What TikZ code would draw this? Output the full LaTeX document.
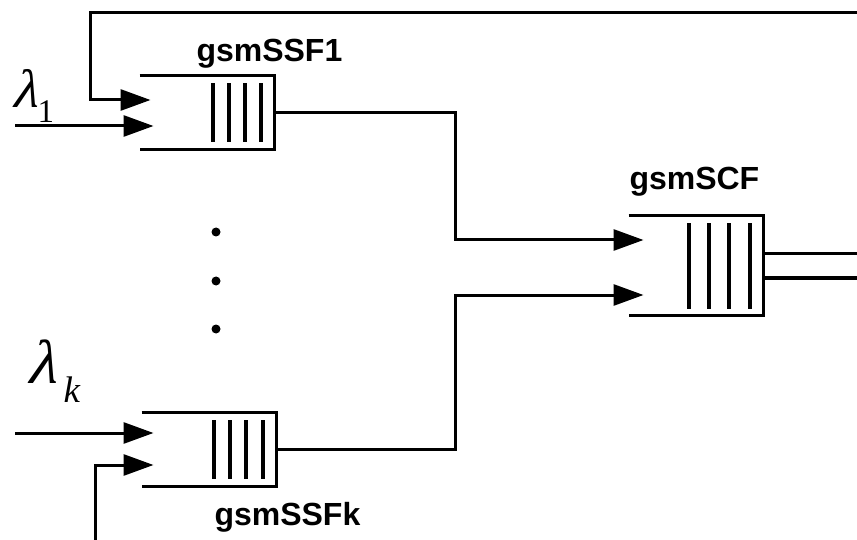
\documentclass[tikz,border=0pt]{standalone}
\usepackage{fontspec}
\setmainfont{Liberation Sans}
\newfontfamily\ratefont{Liberation Serif}
\newfontfamily\lamfont[FakeSlant=0.25]{Liberation Serif}
\usetikzlibrary{arrows.meta,positioning,calc}

\begin{document}
\begin{tikzpicture}[
  x=1pt, y=-1pt, line width=3pt,
  >={Triangle[length=30pt,width=21pt]},
  queue/.style={minimum width=132pt, minimum height=71pt, inner sep=0pt},
  bigqueue/.style={queue, minimum height=97pt},
  bar/.style={line width=4pt},
  lbl/.style={font=\fontsize{32}{32}\selectfont\bfseries, inner sep=0pt, anchor=base west},
  rate/.style={font=\ratefont, inner sep=0pt, anchor=base west},
]
\useasboundingbox (0,0) rectangle (857,540);

% queues
\node[queue] (ssf1) at (207,112.5) {};
\node[queue] (ssfk) at (209,449) {};
\node[bigqueue] (scf) at (696,265.5) {};

\foreach \q/\gap in {ssf1/16, ssfk/16.3, scf/20.3} {
  \draw (\q.north west) -- (\q.north east) -- (\q.south east) -- (\q.south west);
  \foreach \i in {0,...,3}
    \draw[bar] ([xshift={-(14+\i*\gap)*1pt}, yshift=-8pt]\q.north east)
            -- ([xshift={-(14+\i*\gap)*1pt}, yshift=7pt]\q.south east);
}

% labels
\node[lbl] (l1) at (195,62) {gsmSSF1};
\node[lbl] (lk) at (213,525) {gsmSSFk};
\node[lbl] (lc) at (628,190) {gsmSCF};
\node[rate] (lam1) at (10,108)
  {\fontsize{54}{54}\selectfont{\lamfont λ}\raisebox{-15pt}{\fontsize{33}{33}\selectfont 1}};
\node[rate] (lamk) at (25,383)
  {\fontsize{62}{62}\selectfont{\lamfont λ}\hspace{7pt}\raisebox{-19pt}{\itshape\fontsize{37}{37}\selectfont k}};

% dots between the queues
\foreach \y in {232,281,329}
  \fill (216,\y) circle (4.5);

% free ends
\coordinate (fbtop) at (857,13);
\coordinate (fbbot) at (95,540);
\coordinate (in1) at (15,126);
\coordinate (ink) at (15,433);
\coordinate (out1) at (857,254);
\coordinate (out2) at (857,278);

% connectors
\draw[->] (fbtop) -- (90,13) |- ([xshift=11pt, yshift=12.5pt]ssf1.west);
\draw[->] (in1) -- ([xshift=14pt, yshift=-13.5pt]ssf1.west);
\draw[->] (ink) -- ([xshift=12pt, yshift=16pt]ssfk.west);
\draw[->] (fbbot) |- ([xshift=12pt, yshift=-16pt]ssfk.west);
\draw[->] (ssf1.east) -- (455,112.5) |- ([xshift=15pt, yshift=25.5pt]scf.west);
\draw[->] (ssfk.east) -- (455,449) |- ([xshift=15pt, yshift=-29.5pt]scf.west);
\draw ([yshift=11.5pt]scf.east) -- (out1);
\draw ([yshift=-12.5pt]scf.east) -- (out2);
\end{tikzpicture}
\end{document}
